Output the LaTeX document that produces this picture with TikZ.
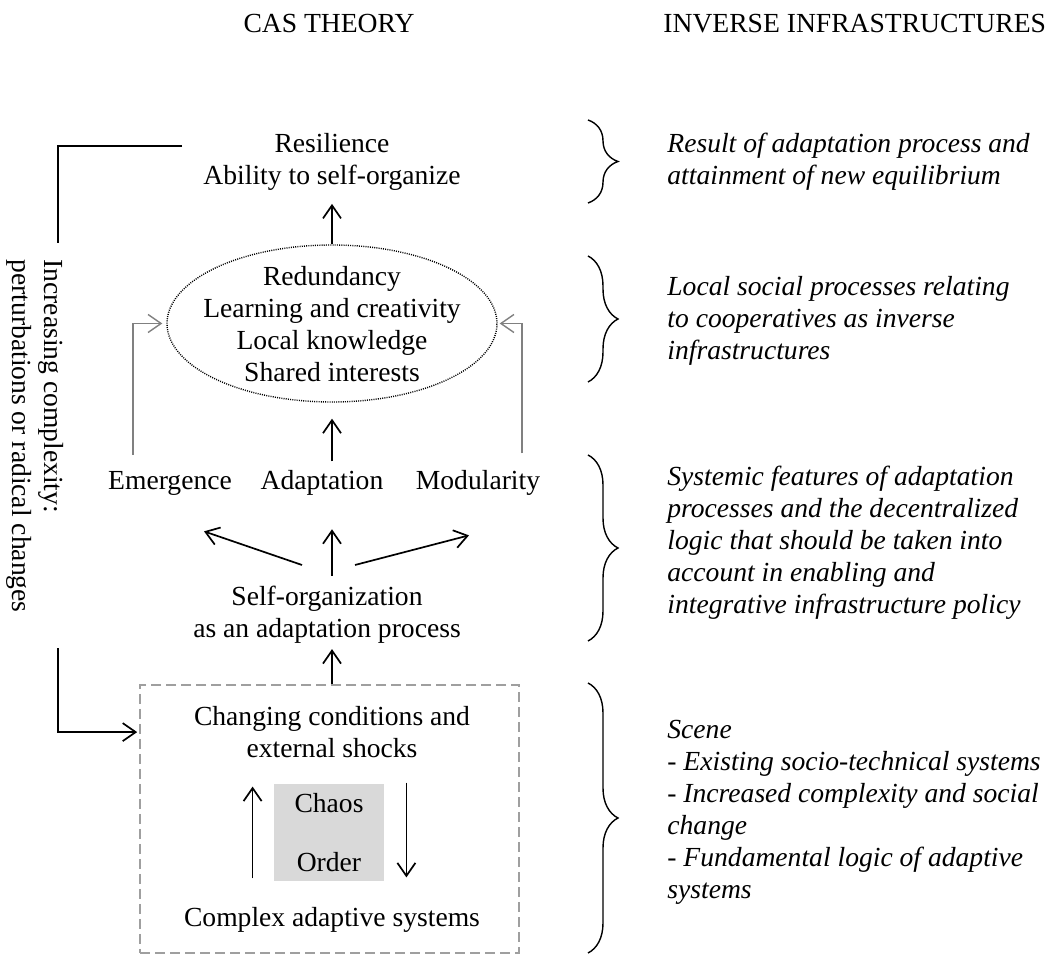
\documentclass[tikz,border=0pt]{standalone}
\usepackage{fontspec}
\setmainfont{Liberation Serif}
\usetikzlibrary{arrows.meta,shapes.geometric,decorations.pathreplacing}

\begin{document}
\begin{tikzpicture}[
        x=0.5pt, y=-0.5pt,
        font=\fontsize{13.8}{16}\selectfont,
        txt/.style={align=center, inner sep=0pt},
        note/.style={align=left, anchor=north west, inner sep=0pt, font=\fontsize{13.8}{16}\selectfont\itshape},
        arr/.style={-{Straight Barb[length=6.5pt, width=9pt]}, line width=0.85pt},
        grayarr/.style={arr, draw=gray, line width=0.7pt},
        plain/.style={line width=0.85pt},
        casbox/.style={draw=gray!75, dash pattern=on 5pt off 2.5pt, line width=0.8pt, minimum width=189.5pt, minimum height=134pt, inner sep=0pt},
        shadebox/.style={fill=black!15, minimum width=55pt, minimum height=48.5pt, inner sep=0pt},
        bubble/.style={draw, ellipse, dash pattern=on 0.5pt off 0.6pt, line width=0.7pt, minimum width=165pt, minimum height=78.5pt, inner sep=0pt},
        brc/.style={decorate, decoration={brace, amplitude=15pt}, line width=0.7pt}
    ]
        \useasboundingbox (0,0) rectangle (1046,956);

        % Column titles
        \node[txt, anchor=base] (castitle) at (329,33) {CAS THEORY};
        \node[txt, anchor=base west] (invtitle) at (663,33) {INVERSE INFRASTRUCTURES};

        % CAS theory column
        \node[txt, anchor=north] (resil) at (332,133) {Resilience\\Ability to self-organize};
        \node[bubble] (ell) at (332,323.5) {};
        \node[txt, anchor=north] (pillars) at (332,266) {Redundancy\\Learning and creativity\\Local knowledge\\Shared interests};
        \node[txt, anchor=base] (emerg) at (170,490) {Emergence};
        \node[txt, anchor=base] (adapt) at (322,490) {Adaptation};
        \node[txt, anchor=base] (modul) at (478,490) {Modularity};
        \node[txt, anchor=north] (selforg) at (327,586) {Self-organization\\as an adaptation process};

        % Scene box
        \node[casbox] (cas) at (329.5,819) {};
        \node[txt, anchor=north] (changing) at (332,706) {Changing conditions and\\external shocks};
        \node[shadebox] (chaosorder) at (329,832.5) {};
        \node[txt, anchor=base] (chaos) at (329,813) {Chaos};
        \node[txt, anchor=base] (order) at (329,872) {Order};
        \node[txt, anchor=base] (cplx) at (332,927) {Complex adaptive systems};

        \node[txt, align=left, rotate=-90, anchor=north west] (drivers) at (64,259) {Increasing complexity:\\perturbations or radical changes};

        % Arrows
        \draw[arr, shorten >=6.5pt] (ell.north) -- (resil.south -| ell.north);
        \draw[arr, shorten <=4.5pt, shorten >=8pt] (adapt.north -| ell.south) -- (ell.south);
        \draw[arr, shorten <=5pt, shorten >=16.5pt] (selforg.north -| ell.south) -- (adapt.south -| ell.south);
        \draw[arr] ([shift={(-25,-21)}]selforg.north) -- ([shift={(34,35)}]emerg.south);
        \draw[arr] ([shift={(28,-21)}]selforg.north) -- ([shift={(-9,39)}]modul.south);
        \draw[arr, shorten >=2.5pt] (cas.north -| ell.south) -- (selforg.south -| ell.south);
        \draw[grayarr, shorten >=2pt] ([shift={(-37,-17)}]emerg.north) |- (ell.west);
        \draw[grayarr, shorten >=1pt] ([shift={(44,-17)}]modul.north) |- (ell.east);
        \draw[arr] ([shift={(-21,-3)}]chaosorder.south west) -- ([shift={(-21,3)}]chaosorder.north west);
        \draw[arr] ([shift={(22,-1)}]chaosorder.north east) -- ([shift={(22,-4)}]chaosorder.south east);

        % Feedback loop
        \draw[plain] ([shift={(-21,13)}]resil.north west) -| ([shift={(-6,-16)}]drivers.north west);
        \draw[arr] ([shift={(-6,35)}]drivers.north east) |- ([xshift=-1pt]cas.west |- changing.center);

        % Inverse infrastructures column
        \draw[brc] (588,120) -- (588,203);
        \draw[brc] (588,256) -- (588,382);
        \draw[brc] (588,455) -- (588,641);
        \draw[brc] (588,683) -- (588,953);
        \node[note] (result) at (667,133) {Result of adaptation process and\\attainment of new equilibrium};
        \node[note] (social) at (667,276) {Local social processes relating\\to cooperatives as inverse\\infrastructures};
        \node[note] (systemic) at (667,466) {Systemic features of adaptation\\processes and the decentralized\\logic that should be taken into\\account in enabling and\\integrative infrastructure policy};
        \node[note] (scene) at (667,720) {Scene\\- Existing socio-technical systems\\- Increased complexity and social\\change\\- Fundamental logic of adaptive\\systems};
\end{tikzpicture}
\end{document}
